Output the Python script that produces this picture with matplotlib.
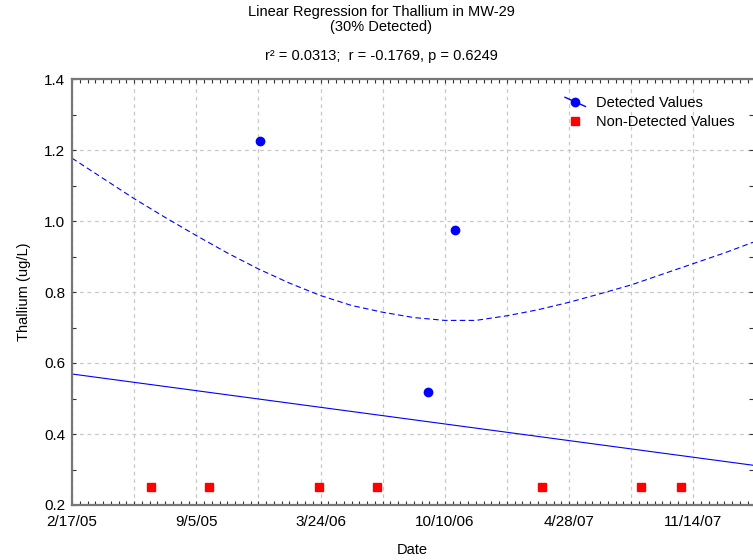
"""Linear regression plot for thallium at MW-29"""

import numpy as np
import pandas as pd
import matplotlib
matplotlib.use("Agg")
import matplotlib.pyplot as plt
import matplotlib.dates as mdates
from matplotlib.ticker import MultipleLocator, FuncFormatter
from matplotlib.legend_handler import HandlerLine2D

plt.rcParams["font.family"] = ["Liberation Sans", "DejaVu Sans"]

# detected results (ug/L)
detected_dates = ["2005-12-16", "2006-09-13", "2006-10-26"]
detected_values = [1.225, 0.517, 0.975]

# non-detects plotted at the reporting limit
nondetect_dates = ["2005-06-24", "2005-09-25", "2006-03-21", "2006-06-23",
                   "2007-03-16", "2007-08-22", "2007-10-25"]
nondetect_values = [0.25, 0.25, 0.25, 0.25, 0.25, 0.25, 0.25]

# fitted line, ends of the plotted range
fit_dates = ["2005-02-17", "2008-02-18"]
fit_values = [0.569, 0.312]

# upper confidence band
band_dates = ["2005-02-17", "2005-04-08", "2005-05-28", "2005-07-17",
              "2005-09-05", "2005-10-25", "2005-12-14", "2006-02-02",
              "2006-03-24", "2006-05-13", "2006-07-02", "2006-08-21",
              "2006-10-10", "2006-11-29", "2007-01-18", "2007-03-09",
              "2007-04-28", "2007-06-17", "2007-08-06", "2007-09-25",
              "2007-11-14", "2008-01-03", "2008-02-18"]
band_values = [1.177, 1.12, 1.063, 1.01, 0.959, 0.91, 0.865, 0.825,
               0.79, 0.762, 0.743, 0.728, 0.72, 0.72, 0.733, 0.75,
               0.771, 0.795, 0.82, 0.85, 0.88, 0.91, 0.94]

start = pd.Timestamp("2005-02-17")
end = pd.Timestamp("2008-02-18")


class DiagonalLineHandler(HandlerLine2D):
    def create_artists(self, legend, orig_handle, xdescent, ydescent,
                       width, height, fontsize, trans):
        artists = super().create_artists(legend, orig_handle, xdescent, ydescent,
                                         width, height, fontsize, trans)
        line = artists[0]
        n = len(line.get_xdata())
        y0 = (height - ydescent) / 2
        line.set_ydata(np.linspace(y0 + height * 0.45, y0 - height * 0.45, n))
        return artists


def days_to_label(x, pos):
    d = mdates.num2date(x).replace(tzinfo=None)
    offset = (pd.Timestamp(d) - start).days
    if round(offset) % 200 != 0:
        return ""
    return f"{d.month}/{d.day}/{d.strftime('%y')}"


def main():
    fig = plt.figure(figsize=(7.53, 5.60), dpi=100)
    ax = fig.add_axes([72 / 753, 1 - 505 / 560, 681 / 753, 426 / 560])

    x_fit = pd.to_datetime(fit_dates)
    x_band = pd.to_datetime(band_dates)
    x_det = pd.to_datetime(detected_dates)
    x_nd = pd.to_datetime(nondetect_dates)

    ax.plot(x_fit, fit_values, color="blue", lw=0.8)
    ax.plot(x_band, band_values, color="blue", lw=0.8, dashes=(5, 3))
    ax.plot(x_det, detected_values, "o", color="blue", ms=6,
            label="Detected Values")
    ax.plot(x_nd, nondetect_values, "s", color="red", ms=6, lw=0,
            label="Non-Detected Values")

    ax.set_xlim(start, end)
    ax.set_ylim(0.2, 1.4)

    # date gridlines every 100 days, labels every 200
    base = mdates.date2num(start)
    ax.xaxis.set_major_locator(MultipleLocator(100, offset=base % 100))
    ax.xaxis.set_minor_locator(MultipleLocator(12.5, offset=base % 12.5))
    ax.xaxis.set_major_formatter(FuncFormatter(days_to_label))
    ax.yaxis.set_major_locator(MultipleLocator(0.2))
    ax.yaxis.set_minor_locator(MultipleLocator(0.1))
    ax.yaxis.set_major_formatter(FuncFormatter(lambda v, p: f"{v:.1f}"))

    ax.grid(True, which="major", color="#c8c8c8", lw=0.9, dashes=(3, 3))
    ax.tick_params(which="both", direction="in", length=3, width=0.8,
                   top=True, right=True, color="#333333", labelsize=11)
    ax.tick_params(axis="x", pad=7)
    ax.tick_params(axis="y", pad=5)
    for side in ["left", "bottom", "top"]:
        ax.spines[side].set_color("#777777")
        ax.spines[side].set_linewidth(1.6)
    ax.spines["right"].set_visible(False)

    ax.set_xlabel("Date", fontsize=10.5, labelpad=10)
    ax.set_ylabel("Thallium (ug/L)", fontsize=10.5, labelpad=9)

    fig.text(381 / 753, 1 - 12 / 560, "Linear Regression for Thallium in MW-29",
             ha="center", va="center", fontsize=10.5)
    fig.text(381 / 753, 1 - 27 / 560, "(30% Detected)",
             ha="center", va="center", fontsize=10.5)
    fig.text(381 / 753, 1 - 56 / 560, "r² = 0.0313;  r = -0.1769, p = 0.6249",
             ha="center", va="center", fontsize=10.5)

    handles, labels = ax.get_legend_handles_labels()
    det_handle = plt.Line2D([], [], color="blue", lw=1, marker="o", ms=6)
    handles[0] = det_handle
    ax.legend(handles, labels, loc="upper left",
              bbox_to_anchor=(565 / 753, 1 - 96 / 560),
              bbox_transform=fig.transFigure, frameon=False, fontsize=10.5,
              handlelength=1.4, handletextpad=0.73, labelspacing=0.35,
              borderpad=0, borderaxespad=0, numpoints=1,
              handler_map={det_handle: DiagonalLineHandler()})

    fig.savefig("out.png", dpi=100)


if __name__ == "__main__":
    main()
